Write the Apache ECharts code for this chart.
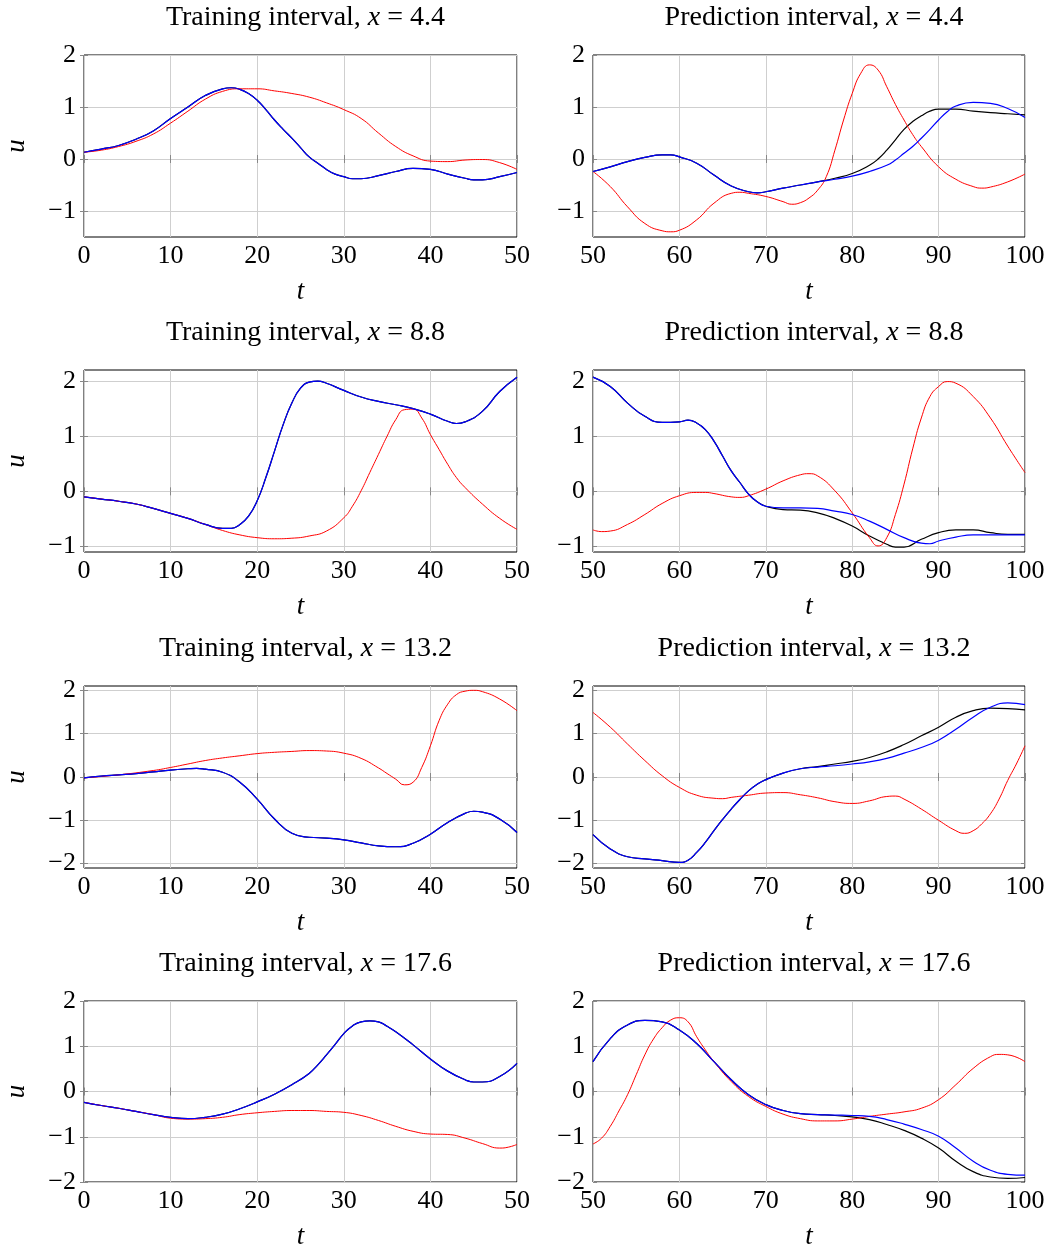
<!DOCTYPE html>
<html>
<head>
<meta charset="utf-8">
<script src="https://cdn.jsdelivr.net/npm/echarts@6/dist/echarts.min.js"></script>
<style>
html,body{margin:0;padding:0;background:#fff;}
#chart{width:1050px;height:1251px;}
</style>
</head>
<body>
<div id="chart"></div>
<script>
// ---------- Data (t, u) ----------
const xValues = ['4.4', '8.8', '13.2', '17.6'];
const xTicksTrain = [0, 10, 20, 30, 40, 50];
const xTicksPred = [50, 60, 70, 80, 90, 100];
const yTicksRows = [[-1, 0, 1, 2], [-1, 0, 1, 2], [-2, -1, 0, 1, 2], [-2, -1, 0, 1, 2]];
const yRanges = [[-1.5, 2], [-1.1, 2.2], [-2.1, 2.1], [-2, 2]];

// x = 4.4
const train44True = [[0,0.13],[2,0.19],[4,0.26],[6,0.38],[8,0.54],[10,0.78],[12,1.0],[14,1.22],[16,1.35],[17,1.37],[18,1.34],[19,1.26],[20,1.13],[21,0.95],[22,0.75],[23,0.57],[24,0.40],[25,0.22],[26,0.04],[27,-0.08],[28,-0.20],[29,-0.29],[30,-0.34],[31,-0.38],[32,-0.38],[34,-0.32],[36,-0.24],[38,-0.18],[40,-0.20],[42,-0.29],[44,-0.37],[45,-0.40],[46,-0.40],[48,-0.34],[50,-0.26]];
const train44Red = [[0,0.13],[2,0.17],[4,0.24],[6,0.34],[8,0.48],[10,0.69],[12,0.92],[14,1.15],[16,1.30],[18,1.35],[20,1.35],[22,1.31],[24,1.26],[26,1.19],[28,1.08],[30,0.95],[32,0.78],[34,0.50],[36,0.24],[38,0.06],[40,-0.04],[42,-0.05],[44,-0.02],[46,-0.01],[48,-0.07],[50,-0.20]];
const pred44True = [[50,-0.24],[52,-0.15],[54,-0.05],[56,0.03],[58,0.08],[59,0.08],[60,0.04],[62,-0.08],[64,-0.31],[66,-0.52],[68,-0.63],[69,-0.65],[70,-0.63],[72,-0.56],[74,-0.50],[76,-0.44],[78,-0.37],[80,-0.28],[82,-0.12],[83,0.00],[84,0.17],[85,0.37],[86,0.57],[87,0.72],[88,0.83],[89,0.92],[90,0.96],[92,0.96],[94,0.92],[96,0.89],[98,0.87],[100,0.85]];
const pred44Blue = [[50,-0.24],[52,-0.15],[54,-0.05],[56,0.03],[58,0.08],[59,0.08],[60,0.04],[62,-0.08],[64,-0.31],[66,-0.52],[68,-0.63],[69,-0.65],[70,-0.63],[72,-0.56],[74,-0.50],[76,-0.44],[78,-0.39],[80,-0.33],[82,-0.24],[84,-0.12],[85,-0.02],[86,0.11],[87,0.24],[88,0.40],[89,0.57],[90,0.75],[91,0.91],[92,1.02],[94,1.09],[96,1.07],[98,0.97],[100,0.80]];
const pred44Red = [[50,-0.24],[52,-0.53],[54,-0.92],[56,-1.24],[58,-1.38],[59,-1.40],[60,-1.37],[62,-1.17],[64,-0.85],[66,-0.66],[67,-0.64],[68,-0.66],[70,-0.72],[72,-0.82],[73,-0.87],[74,-0.84],[75,-0.75],[76,-0.60],[77,-0.34],[78,0.17],[79,0.75],[80,1.26],[81,1.65],[82,1.81],[83,1.71],[84,1.39],[85,1.05],[86,0.75],[87,0.47],[88,0.24],[90,-0.15],[92,-0.39],[94,-0.53],[95,-0.56],[96,-0.54],[98,-0.44],[100,-0.29]];

// x = 8.8
const train88True = [[0,-0.10],[2,-0.14],[4,-0.18],[6,-0.23],[8,-0.31],[10,-0.40],[12,-0.49],[14,-0.60],[16,-0.67],[17,-0.67],[18,-0.60],[19,-0.45],[20,-0.17],[21,0.25],[22,0.73],[23,1.21],[24,1.60],[25,1.87],[26,1.98],[27,2.0],[28,1.96],[30,1.83],[32,1.71],[34,1.63],[36,1.57],[38,1.50],[40,1.40],[42,1.27],[43,1.23],[44,1.26],[46,1.45],[48,1.81],[50,2.07]];
const train88Red = [[0,-0.10],[2,-0.14],[4,-0.18],[6,-0.23],[8,-0.31],[10,-0.40],[12,-0.49],[14,-0.60],[16,-0.71],[18,-0.79],[20,-0.84],[22,-0.86],[24,-0.85],[26,-0.81],[28,-0.72],[30,-0.48],[31,-0.27],[32,0.01],[33,0.34],[34,0.67],[35,1.00],[36,1.30],[37,1.48],[38,1.49],[39,1.33],[40,1.03],[41,0.76],[42,0.49],[43,0.25],[44,0.07],[46,-0.23],[48,-0.49],[50,-0.69]];
const pred88True = [[50,2.07],[52,1.90],[54,1.60],[56,1.36],[58,1.25],[60,1.26],[61,1.29],[62,1.24],[63,1.12],[64,0.91],[65,0.64],[66,0.37],[67,0.16],[68,-0.05],[69,-0.19],[70,-0.27],[72,-0.33],[74,-0.34],[76,-0.39],[78,-0.49],[80,-0.63],[82,-0.81],[84,-0.96],[85,-1.01],[86,-1.01],[88,-0.87],[90,-0.75],[92,-0.70],[94,-0.70],[96,-0.75],[98,-0.78],[100,-0.78]];
const pred88Blue = [[50,2.07],[52,1.90],[54,1.60],[56,1.36],[58,1.25],[60,1.26],[61,1.29],[62,1.24],[63,1.12],[64,0.91],[65,0.64],[66,0.37],[67,0.16],[68,-0.05],[69,-0.19],[70,-0.27],[72,-0.30],[74,-0.30],[76,-0.31],[78,-0.36],[80,-0.42],[82,-0.54],[84,-0.69],[86,-0.84],[88,-0.94],[89,-0.95],[90,-0.90],[92,-0.83],[94,-0.79],[96,-0.79],[98,-0.79],[100,-0.79]];
const pred88Red = [[50,-0.70],[51,-0.73],[52,-0.72],[54,-0.60],[56,-0.42],[58,-0.22],[60,-0.08],[62,-0.02],[63,-0.02],[64,-0.04],[66,-0.10],[67,-0.11],[68,-0.08],[70,0.04],[72,0.19],[74,0.30],[75,0.32],[76,0.28],[78,0.01],[80,-0.39],[82,-0.84],[83,-0.99],[84,-0.84],[85,-0.42],[86,0.13],[87,0.77],[88,1.33],[89,1.72],[90,1.90],[91,1.99],[92,1.96],[94,1.72],[96,1.33],[98,0.82],[100,0.34]];

// x = 13.2
const train132True = [[0,-0.02],[2,0.02],[4,0.05],[6,0.08],[8,0.12],[10,0.16],[12,0.19],[13,0.20],[14,0.18],[16,0.11],[18,-0.12],[20,-0.51],[22,-0.97],[24,-1.30],[26,-1.39],[28,-1.41],[30,-1.45],[32,-1.52],[34,-1.59],[36,-1.61],[38,-1.53],[40,-1.32],[42,-1.05],[44,-0.84],[45,-0.79],[46,-0.81],[48,-0.97],[50,-1.28]];
const train132Red = [[0,-0.02],[4,0.05],[8,0.15],[10,0.22],[12,0.30],[14,0.38],[16,0.44],[18,0.49],[20,0.54],[22,0.57],[24,0.59],[26,0.61],[28,0.60],[30,0.55],[32,0.43],[34,0.21],[35,0.08],[36,-0.05],[37,-0.18],[38,-0.12],[39,0.22],[40,0.72],[41,1.30],[42,1.68],[43,1.90],[44,1.98],[45,2.0],[46,1.97],[48,1.80],[50,1.53]];
const pred132True = [[50,-1.33],[52,-1.66],[54,-1.84],[56,-1.89],[58,-1.93],[60,-1.97],[61,-1.92],[62,-1.74],[63,-1.51],[64,-1.24],[65,-0.98],[66,-0.74],[67,-0.52],[68,-0.32],[69,-0.17],[70,-0.06],[72,0.09],[74,0.19],[76,0.24],[78,0.30],[80,0.36],[82,0.45],[84,0.58],[86,0.75],[88,0.95],[90,1.15],[92,1.38],[94,1.53],[96,1.59],[98,1.58],[100,1.55]];
const pred132Blue = [[50,-1.33],[52,-1.66],[54,-1.84],[56,-1.89],[58,-1.93],[60,-1.97],[61,-1.92],[62,-1.74],[63,-1.51],[64,-1.24],[65,-0.98],[66,-0.74],[67,-0.52],[68,-0.32],[69,-0.17],[70,-0.06],[72,0.09],[74,0.19],[76,0.23],[78,0.26],[80,0.30],[82,0.35],[84,0.43],[86,0.55],[88,0.68],[90,0.85],[92,1.10],[94,1.38],[96,1.61],[98,1.71],[100,1.67]];
const pred132Red = [[50,1.49],[52,1.15],[54,0.76],[56,0.38],[58,0.03],[60,-0.24],[62,-0.42],[64,-0.49],[65,-0.50],[66,-0.47],[68,-0.42],[70,-0.37],[72,-0.36],[74,-0.41],[76,-0.48],[78,-0.57],[80,-0.61],[82,-0.55],[84,-0.45],[85,-0.44],[86,-0.51],[88,-0.74],[90,-1.0],[92,-1.24],[93,-1.30],[94,-1.24],[95,-1.08],[96,-0.85],[97,-0.51],[98,-0.08],[99,0.30],[100,0.72]];

// x = 17.6
const train176True = [[0,-0.24],[2,-0.31],[4,-0.37],[6,-0.44],[8,-0.51],[10,-0.57],[12,-0.60],[14,-0.57],[16,-0.50],[18,-0.38],[20,-0.23],[22,-0.06],[24,0.15],[26,0.40],[27,0.59],[28,0.81],[29,1.04],[30,1.28],[31,1.45],[32,1.54],[33,1.56],[34,1.54],[35,1.44],[36,1.32],[38,1.03],[40,0.72],[42,0.45],[44,0.26],[45,0.21],[46,0.21],[48,0.33],[50,0.62]];
const train176Red = [[0,-0.24],[2,-0.31],[4,-0.37],[6,-0.44],[8,-0.51],[10,-0.59],[12,-0.61],[14,-0.60],[16,-0.57],[18,-0.51],[20,-0.47],[22,-0.44],[24,-0.42],[26,-0.42],[28,-0.44],[30,-0.46],[32,-0.53],[34,-0.64],[36,-0.77],[38,-0.88],[40,-0.94],[42,-0.95],[44,-1.03],[46,-1.15],[48,-1.25],[49,-1.23],[50,-1.17]];
const pred176True = [[50,0.66],[52,1.17],[54,1.47],[56,1.57],[58,1.54],[60,1.36],[62,1.06],[64,0.66],[66,0.26],[68,-0.07],[70,-0.29],[72,-0.42],[74,-0.49],[76,-0.51],[78,-0.53],[80,-0.56],[82,-0.62],[84,-0.73],[86,-0.86],[88,-1.03],[90,-1.25],[92,-1.54],[94,-1.77],[96,-1.89],[98,-1.92],[100,-1.90]];
const pred176Blue = [[50,0.66],[52,1.17],[54,1.47],[56,1.57],[58,1.54],[60,1.36],[62,1.06],[64,0.66],[66,0.26],[68,-0.07],[70,-0.29],[72,-0.42],[74,-0.49],[76,-0.51],[78,-0.52],[80,-0.53],[82,-0.55],[84,-0.62],[86,-0.72],[88,-0.84],[90,-0.99],[92,-1.25],[94,-1.54],[96,-1.74],[98,-1.83],[100,-1.85]];
const pred176Red = [[50,-1.16],[51,-1.03],[52,-0.77],[53,-0.43],[54,-0.07],[55,0.37],[56,0.81],[57,1.16],[58,1.41],[59,1.58],[60,1.63],[61,1.54],[62,1.21],[63,0.92],[64,0.66],[66,0.22],[68,-0.11],[70,-0.33],[72,-0.50],[74,-0.60],[76,-0.65],[78,-0.65],[80,-0.61],[82,-0.55],[84,-0.50],[86,-0.45],[88,-0.37],[90,-0.18],[92,0.15],[94,0.51],[96,0.77],[97,0.82],[98,0.81],[100,0.66]];

// ---------- Build option ----------
const FONT = '"Liberation Serif", "DejaVu Serif", serif';
const rowTops = [55, 370, 686, 1001];
const plotH = 182;
const colLeft = [84, 593];
const colW = [433, 432];

const panels = [
  {row:0,col:0,kind:'Training',x:xValues[0],black:train44True,blue:train44True,red:train44Red},
  {row:0,col:1,kind:'Prediction',x:xValues[0],black:pred44True,blue:pred44Blue,red:pred44Red},
  {row:1,col:0,kind:'Training',x:xValues[1],black:train88True,blue:train88True,red:train88Red},
  {row:1,col:1,kind:'Prediction',x:xValues[1],black:pred88True,blue:pred88Blue,red:pred88Red},
  {row:2,col:0,kind:'Training',x:xValues[2],black:train132True,blue:train132True,red:train132Red},
  {row:2,col:1,kind:'Prediction',x:xValues[2],black:pred132True,blue:pred132Blue,red:pred132Red},
  {row:3,col:0,kind:'Training',x:xValues[3],black:train176True,blue:train176True,red:train176Red},
  {row:3,col:1,kind:'Prediction',x:xValues[3],black:pred176True,blue:pred176Blue,red:pred176Red}
];

const grids = [], xAxes = [], yAxes = [], series = [], titles = [];
const gridColor = '#cfcfcf';
const tickColor = '#888';
const fmtMinus = v => (v < 0 ? '\u2212' + Math.abs(v) : '' + v);

panels.forEach((p, i) => {
  const top = rowTops[p.row];
  const left = colLeft[p.col];
  const w = colW[p.col];
  const xt = p.col === 0 ? xTicksTrain : xTicksPred;
  const yt = yTicksRows[p.row];
  const [ymin, ymax] = yRanges[p.row];
  grids.push({left: left, top: top, width: w, height: plotH, show: true, borderColor: '#000', borderWidth: 1, backgroundColor: 'transparent', containLabel: false});
  titles.push({
    text: p.kind + ' interval, {i|x} = ' + p.x,
    left: left + w / 2, top: top - 56, textAlign: 'center',
    textStyle: {fontFamily: FONT, fontSize: 28, fontWeight: 'normal', color: '#000',
      rich: {i: {fontFamily: FONT, fontStyle: 'italic', fontSize: 28, color: '#000'}}}
  });
  xAxes.push({
    type: 'value', gridIndex: i, min: xt[0], max: xt[xt.length-1], interval: 10, position: 'bottom',
    name: 't', nameLocation: 'middle', nameGap: 41,
    nameTextStyle: {fontFamily: FONT, fontStyle: 'italic', fontSize: 27, color: '#000'},
    axisLine: {show: false},
    axisTick: {show: true, inside: true, length: 4, lineStyle: {color: tickColor}},
    axisLabel: {fontFamily: FONT, fontSize: 26, color: '#000', margin: 6},
    splitLine: {show: true, lineStyle: {color: gridColor, width: 1}}
  });
  yAxes.push({
    type: 'value', gridIndex: i, min: ymin, max: ymax,
    name: p.col === 0 ? 'u' : '', nameLocation: 'middle', nameGap: 54, nameRotate: 90,
    nameTextStyle: {fontFamily: FONT, fontStyle: 'italic', fontSize: 27, color: '#000'},
    axisLine: {show: false},
    axisTick: {show: true, inside: true, length: 4, customValues: yt, lineStyle: {color: tickColor}},
    axisLabel: {fontFamily: FONT, fontSize: 26, color: '#000', margin: 8, customValues: yt, formatter: fmtMinus},
    splitLine: {show: true, lineStyle: {color: gridColor, width: 1}}
  });
  series.push({type: 'line', xAxisIndex: i, yAxisIndex: i, data: p.black, smooth: 0.5, showSymbol: false, lineStyle: {color: '#000', width: 1.2}, z: 3});
  series.push({type: 'line', xAxisIndex: i, yAxisIndex: i, data: p.red, smooth: 0.5, showSymbol: false, lineStyle: {color: '#ff0000', width: 1}, z: 4});
  series.push({type: 'line', xAxisIndex: i, yAxisIndex: i, data: p.blue, smooth: 0.5, showSymbol: false, lineStyle: {color: '#0000ff', width: 1.2}, z: 5});
});
// mirrored ticks on top / right
panels.forEach((p, i) => {
  const xt = p.col === 0 ? xTicksTrain : xTicksPred;
  const yt = yTicksRows[p.row];
  const [ymin, ymax] = yRanges[p.row];
  xAxes.push({type: 'value', gridIndex: i, min: xt[0], max: xt[xt.length-1], interval: 10, position: 'top',
    axisLine: {show: false}, axisLabel: {show: false}, splitLine: {show: false},
    axisTick: {show: true, inside: true, length: 4, lineStyle: {color: tickColor}}});
  yAxes.push({type: 'value', gridIndex: i, min: ymin, max: ymax, position: 'right',
    axisLine: {show: false}, axisLabel: {show: false, customValues: yt}, splitLine: {show: false},
    axisTick: {show: true, inside: true, length: 4, customValues: yt, lineStyle: {color: tickColor}}});
});

const chart = echarts.init(document.getElementById('chart'), null, {renderer: 'canvas'});
chart.setOption({
  backgroundColor: '#fff',
  animation: false,
  title: titles,
  grid: grids,
  xAxis: xAxes,
  yAxis: yAxes,
  series: series
});
</script>
</body>
</html>
